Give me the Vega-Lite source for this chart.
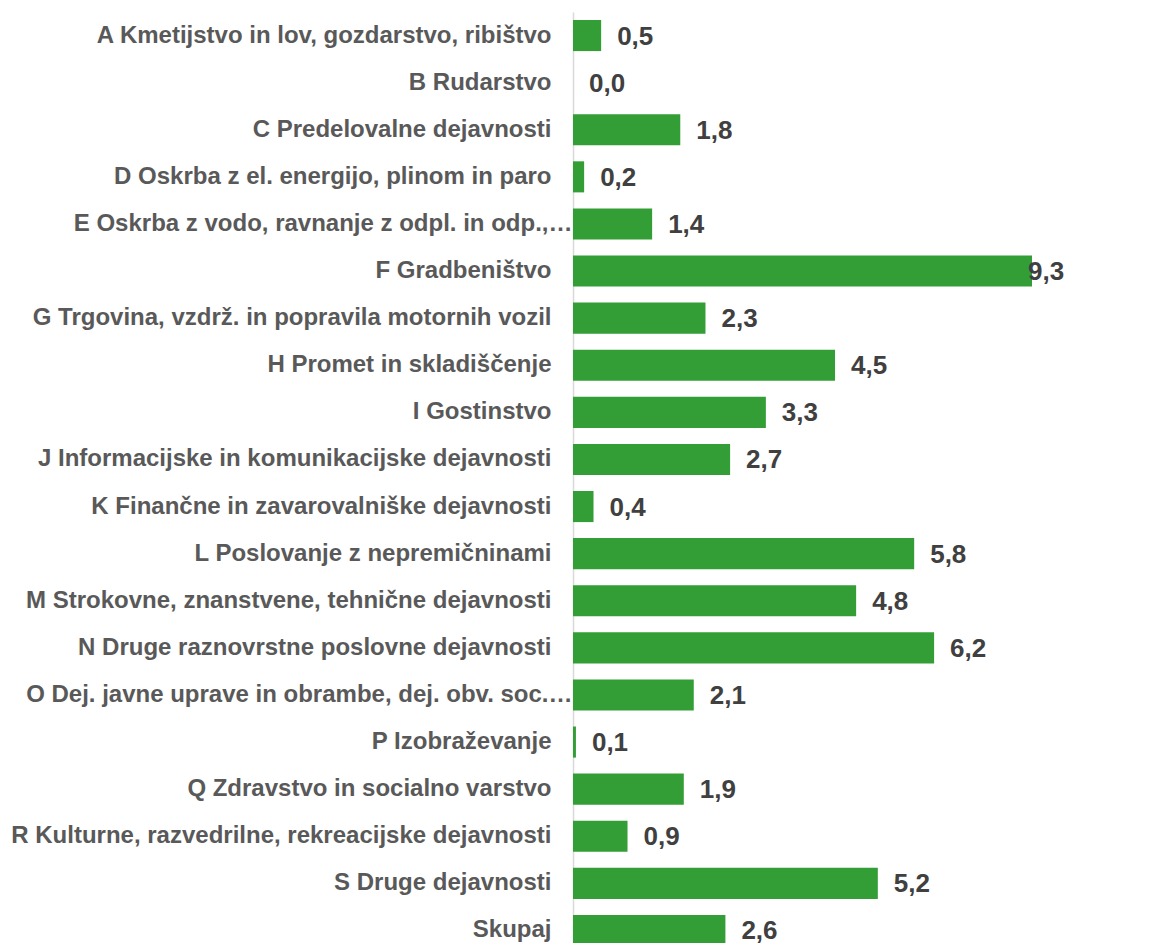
{
  "$schema": "https://vega.github.io/schema/vega-lite/v6.json",
  "autosize": {"type": "none"},
  "padding": {"left": 573, "top": 12, "right": 123, "bottom": 0},
  "width": 459,
  "height": 931,
  "background": "white",
  "config": {"view": {"stroke": null}, "font": "Liberation Sans"},
  "data": {
    "values": [
      {"category": "A Kmetijstvo in lov, gozdarstvo, ribištvo", "value": 0.48, "label": "0,5"},
      {"category": "B Rudarstvo", "value": 0.0, "label": "0,0"},
      {"category": "C Predelovalne dejavnosti", "value": 1.83, "label": "1,8"},
      {"category": "D Oskrba z el. energijo, plinom in paro", "value": 0.19, "label": "0,2"},
      {"category": "E Oskrba z vodo, ravnanje z odpl. in odp.,…", "value": 1.35, "label": "1,4"},
      {"category": "F Gradbeništvo", "value": 9.3, "label": "9,3"},
      {"category": "G Trgovina, vzdrž. in popravila motornih vozil", "value": 2.26, "label": "2,3"},
      {"category": "H Promet in skladiščenje", "value": 4.47, "label": "4,5"},
      {"category": "I Gostinstvo", "value": 3.29, "label": "3,3"},
      {"category": "J Informacijske in komunikacijske dejavnosti", "value": 2.68, "label": "2,7"},
      {"category": "K Finančne in zavarovalniške dejavnosti", "value": 0.35, "label": "0,4"},
      {"category": "L Poslovanje z nepremičninami", "value": 5.82, "label": "5,8"},
      {"category": "M Strokovne, znanstvene, tehnične dejavnosti", "value": 4.83, "label": "4,8"},
      {"category": "N Druge raznovrstne poslovne dejavnosti", "value": 6.16, "label": "6,2"},
      {"category": "O Dej. javne uprave in obrambe, dej. obv. soc.…", "value": 2.06, "label": "2,1"},
      {"category": "P Izobraževanje", "value": 0.05, "label": "0,1"},
      {"category": "Q Zdravstvo in socialno varstvo", "value": 1.89, "label": "1,9"},
      {"category": "R Kulturne, razvedrilne, rekreacijske dejavnosti", "value": 0.93, "label": "0,9"},
      {"category": "S Druge dejavnosti", "value": 5.2, "label": "5,2"},
      {"category": "Skupaj", "value": 2.6, "label": "2,6"}
    ]
  },
  "encoding": {
    "y": {
      "field": "category",
      "type": "nominal",
      "sort": null,
      "scale": {"range": [0, 942], "paddingInner": 0.34, "paddingOuter": 0.17},
      "axis": {
        "title": null,
        "ticks": false,
        "labelFont": "Liberation Sans",
        "labelFontSize": 24,
        "labelFontWeight": "bold",
        "labelColor": "#595959",
        "labelPadding": {"condition": {"test": "indexof(datum.value, '…') >= 0", "value": 1}, "value": 22},
        "labelLimit": 700,
        "domainColor": "#d9d9d9",
        "domainWidth": 1.5,
        "grid": false
      }
    },
    "x": {
      "field": "value",
      "type": "quantitative",
      "scale": {"domain": [0, 7.83], "clamp": true, "nice": false, "zero": true},
      "axis": null
    }
  },
  "layer": [
    {
      "mark": {"type": "bar", "color": "#339E36"}
    },
    {
      "transform": [{"filter": "datum.value <= 7.83"}],
      "mark": {"type": "text", "align": "left", "baseline": "middle", "dx": 16, "dy": 1, "font": "Liberation Sans", "fontSize": 26, "fontWeight": "bold", "color": "#404040"},
      "encoding": {"text": {"field": "label"}}
    },
    {
      "transform": [{"filter": "datum.value > 7.83"}],
      "mark": {"type": "text", "align": "left", "baseline": "middle", "dx": -4, "dy": 1, "font": "Liberation Sans", "fontSize": 26, "fontWeight": "bold", "color": "#404040"},
      "encoding": {"text": {"field": "label"}}
    }
  ]
}
